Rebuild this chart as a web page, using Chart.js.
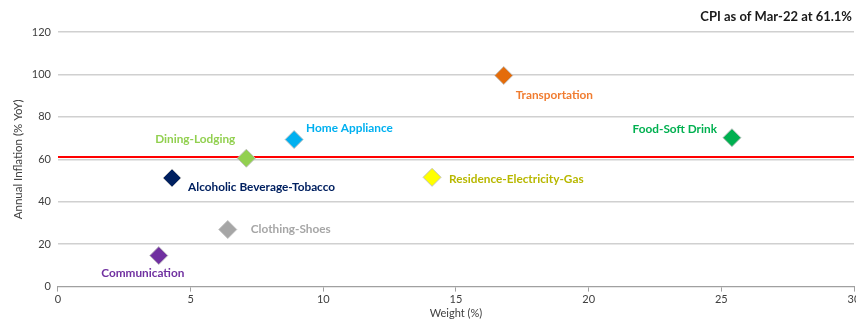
<!DOCTYPE html>
<html>
<head>
<meta charset="utf-8">
<script src="https://cdn.jsdelivr.net/npm/chart.js@4.4.1/dist/chart.umd.min.js"></script>
<style>
  html, body { margin: 0; padding: 0; background: #fff; overflow: hidden; }
  #wrap { position: absolute; left: 0; top: 0; width: 864px; height: 322px; }
</style>
</head>
<body>
<div id="wrap"><canvas id="chart"></canvas></div>
<script>
// CPI components: weight (%) vs annual inflation (% YoY)
const categories = ["Communication", "Alcoholic Beverage-Tobacco", "Clothing-Shoes", "Dining-Lodging",
  "Home Appliance", "Residence-Electricity-Gas", "Transportation", "Food-Soft Drink"];
const weights = [3.8, 4.3, 6.4, 7.1, 8.9, 14.1, 16.8, 25.4];
const inflation = [14.6, 51.2, 26.9, 60.5, 69.3, 51.5, 99.5, 70.2];
const cpiHeadline = 61.1;
const xTicks = [0, 5, 10, 15, 20, 25, 30];
const yTicks = [0, 20, 40, 60, 80, 100, 120];

const pointColors = ["#7030a0", "#002060", "#a6a6a6", "#92d050", "#00b0f0", "#ffff00", "#e46c0a", "#00b050"];
const labelColors = ["#7030a0", "#002060", "#a6a6a6", "#92d050", "#00b0f0", "#b8b800", "#f07c30", "#00b050"];
// label offset from the marker centre: [dx, dy, align]
const labelPlace = [[-16, 18, "center"], [16, 9, "left"], [23, 0, "left"], [-11, -19, "right"],
  [12, -11, "left"], [17, 2, "left"], [12, 20, "left"], [-15, -8, "right"]];

const FONT = "Lato, 'Noto Sans', sans-serif";

const pointLabels = {
  id: "pointLabels",
  afterDatasetsDraw(chart) {
    const { ctx, scales: { x, y }, chartArea } = chart;
    ctx.save();
    ctx.font = "bold 11.8px " + FONT;
    ctx.textBaseline = "middle";
    categories.forEach((name, i) => {
      const px = x.getPixelForValue(weights[i]);
      const py = y.getPixelForValue(inflation[i]);
      const [dx, dy, align] = labelPlace[i];
      ctx.fillStyle = labelColors[i];
      ctx.textAlign = align;
      ctx.fillText(name, px + dx, py + dy);
    });
    ctx.font = "bold 13px " + FONT;
    ctx.fillStyle = "#1a1a1a";
    ctx.textAlign = "right";
    ctx.fillText("CPI as of Mar-22 at " + cpiHeadline + "%", chartArea.right - 2, 17);
    ctx.restore();
  }
};

new Chart(document.getElementById("chart"), {
  type: "scatter",
  data: {
    datasets: [
      {
        label: "Components",
        data: weights.map((w, i) => ({ x: w, y: inflation[i] })),
        pointStyle: "rectRot",
        pointRadius: 9,
        pointHoverRadius: 9,
        backgroundColor: pointColors,
        borderColor: "rgba(190,190,190,0.9)",
        borderWidth: 1,
        order: 1
      },
      {
        type: "line",
        label: "CPI",
        data: [{ x: xTicks[0], y: cpiHeadline }, { x: xTicks[xTicks.length - 1], y: cpiHeadline }],
        borderColor: "#ff0000",
        borderWidth: 2,
        pointRadius: 0,
        order: 2
      }
    ]
  },
  options: {
    responsive: true,
    maintainAspectRatio: false,
    animation: false,
    layout: { padding: { top: 32, left: 11, right: 0, bottom: 2 } },
    plugins: {
      legend: { display: false },
      tooltip: { enabled: false },
      title: { display: false }
    },
    scales: {
      x: {
        type: "linear",
        min: 0, max: 30,
        afterBuildTicks: (s) => { s.ticks = xTicks.map(v => ({ value: v })); },
        grid: { drawOnChartArea: false, drawTicks: true, tickLength: 5, color: "#a0a0a0" },
        border: { color: "#a0a0a0", width: 1 },
        ticks: { color: "#404040", font: { family: FONT, size: 11 }, padding: 1 },
        title: { display: true, text: "Weight (%)", color: "#404040", font: { family: FONT, size: 11 }, padding: { top: 0, bottom: 0 } }
      },
      y: {
        min: 0, max: 120,
        afterBuildTicks: (s) => { s.ticks = yTicks.map(v => ({ value: v })); },
        grid: { color: "#d0d0d0", lineWidth: 1.5, drawTicks: false },
        border: { display: false },
        ticks: { color: "#404040", font: { family: FONT, size: 11 }, padding: 7 },
        title: { display: true, text: "Annual Inflation (% YoY)", color: "#404040", font: { family: FONT, size: 11.5 }, padding: { top: 0, bottom: 0 } }
      }
    }
  },
  plugins: [pointLabels]
});
</script>
</body>
</html>
